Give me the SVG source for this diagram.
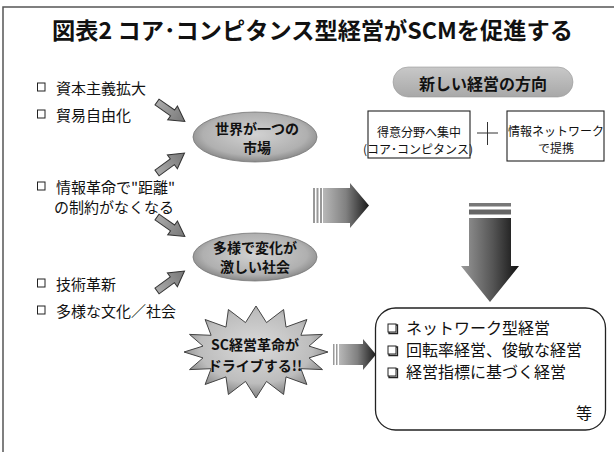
<svg xmlns="http://www.w3.org/2000/svg" width="614" height="452" viewBox="0 0 614 452">
<defs>
<style>
.t{font-family:"Noto Sans CJK JP","Liberation Sans",sans-serif;fill:#111;}
.lst{font-size:15px;dominant-baseline:central;}
.ell{font-size:14px;font-weight:bold;text-anchor:middle;dominant-baseline:central;}
.box{fill:#fff;stroke:#222;stroke-width:1.1;}
.bx{font-size:12px;text-anchor:middle;dominant-baseline:central;}
.res{font-size:16px;dominant-baseline:central;}
.sarrow{fill:url(#gSmall);stroke:#333;stroke-width:1;}
.cb{fill:#fff;stroke:#222;stroke-width:1;}
</style>
<radialGradient id="gEll" cx="0.5" cy="0.45" r="0.6">
<stop offset="0" stop-color="#d2d2d2"/><stop offset="0.7" stop-color="#b0b0b0"/><stop offset="1" stop-color="#7a7a7a"/>
</radialGradient>
<radialGradient id="gStar" cx="0.5" cy="0.45" r="0.6">
<stop offset="0" stop-color="#dadada"/><stop offset="0.65" stop-color="#bdbdbd"/><stop offset="1" stop-color="#6e6e6e"/>
</radialGradient>
<linearGradient id="gSmall" x1="0" y1="0" x2="1" y2="0">
<stop offset="0" stop-color="#aaa"/><stop offset="1" stop-color="#777"/>
</linearGradient>
<linearGradient id="gRight" x1="0" y1="0" x2="1" y2="0">
<stop offset="0" stop-color="#b8b8b8"/><stop offset="0.5" stop-color="#808080"/><stop offset="1" stop-color="#1a1a1a"/>
</linearGradient>
<linearGradient id="gDown" x1="0" y1="0" x2="1" y2="0">
<stop offset="0" stop-color="#9a9a9a"/><stop offset="0.55" stop-color="#555"/><stop offset="1" stop-color="#111"/>
</linearGradient>
<linearGradient id="gPill" x1="0" y1="0" x2="0" y2="1">
<stop offset="0" stop-color="#c8c8c8"/><stop offset="1" stop-color="#a8a8a8"/>
</linearGradient>
<path id="sa" d="M0,-3.5 L19,-3.5 L19,-8.5 L34,0 L19,8.5 L19,3.5 L0,3.5 Z"/>
</defs>

<rect x="0" y="0" width="614" height="452" fill="#fff"/>
<g id="frame" stroke="#555" stroke-width="1.5" fill="none">
<path d="M3,452 L3,7 L614,7"/>
</g>

<g id="title">
<text class="t" x="52" y="29" font-size="23" font-weight="bold" dominant-baseline="central" textLength="521" lengthAdjust="spacingAndGlyphs">図表2 コア･コンピタンス型経営がSCMを促進する</text>
</g>

<g id="list">
<rect class="cb" x="37.5" y="83" width="7.5" height="8"/>
<text class="t lst" x="56" y="87">資本主義拡大</text>
<rect class="cb" x="37.5" y="110" width="7.5" height="8"/>
<text class="t lst" x="56" y="114">貿易自由化</text>
<rect class="cb" x="37.5" y="182" width="7.5" height="8"/>
<text class="t lst" x="56" y="186">情報革命で"距離"</text>
<text class="t lst" x="54" y="206">の制約がなくなる</text>
<rect class="cb" x="37.5" y="279" width="7.5" height="8"/>
<text class="t lst" x="56" y="283">技術革新</text>
<rect class="cb" x="37.5" y="306" width="7.5" height="8"/>
<text class="t lst" x="56" y="310">多様な文化／社会</text>
</g>

<g id="connectors">
<use href="#sa" class="sarrow" transform="translate(157,102) rotate(35)"/>
<use href="#sa" class="sarrow" transform="translate(157,173) rotate(-36)"/>
<use href="#sa" class="sarrow" transform="translate(157,217) rotate(35)"/>
<use href="#sa" class="sarrow" transform="translate(157,291) rotate(-36)"/>
<g id="bigRight">
<rect x="313" y="188" width="2" height="35" fill="#999"/>
<rect x="316.5" y="188" width="2" height="35" fill="#999"/>
<rect x="320" y="188" width="2" height="35" fill="#999"/>
<path d="M323,188 L350,188 L350,183 L369,205.5 L350,228 L350,223 L323,223 Z" fill="url(#gRight)"/>
</g>
<g id="bigDown">
<rect x="469" y="203" width="42" height="3.5" fill="#777"/>
<rect x="469" y="209.5" width="42" height="5" fill="#666"/>
<path d="M469,218 L511,218 L511,266 L519,266 L490,302 L461,266 L469,266 Z" fill="url(#gDown)"/>
</g>
<g id="smallRight">
<rect x="333" y="344" width="1.5" height="21" fill="#999"/>
<rect x="336" y="344" width="1.5" height="21" fill="#999"/>
<path d="M339,344 L363,344 L363,339 L376,354.5 L363,370 L363,365 L339,365 Z" fill="url(#gRight)"/>
</g>
</g>

<g id="world">
<ellipse cx="255" cy="137" rx="62" ry="25" fill="url(#gEll)" stroke="#777" stroke-width="0.8"/>
<text class="t ell" x="257" y="128">世界が一つの</text>
<text class="t ell" x="257" y="147">市場</text>
</g>

<g id="society">
<ellipse cx="255" cy="257" rx="62" ry="24" fill="url(#gEll)" stroke="#777" stroke-width="0.8"/>
<text class="t ell" x="255" y="247">多様で変化が</text>
<text class="t ell" x="255" y="266">激しい社会</text>
</g>

<g id="star">
<polygon points="328,352 309,357.9 322.5,369.6 300.9,368.7 306.9,384.5 286,376.9 283.6,394.5 266.5,381.4 256,398 245.5,381.4 228.4,394.5 226,376.9 205.1,384.5 211.1,368.7 189.5,369.6 203,357.9 184,352 203,346.1 189.5,334.4 211.1,335.3 205.1,319.5 226,327.1 228.4,309.5 245.5,322.6 256,306 266.5,322.6 283.6,309.5 286,327.1 306.9,319.5 300.9,335.3 322.5,334.4 309,346.1" fill="url(#gStar)" stroke="#444" stroke-width="1"/>
<text class="t ell" x="255" y="344" font-size="14.5">SC経営革命が</text>
<text class="t ell" x="255" y="365" font-size="14.5">ドライブする!!</text>
</g>

<g id="direction">
<rect x="393" y="67" width="180" height="30" rx="15" fill="url(#gPill)" stroke="#999" stroke-width="0.6"/>
<text class="t" x="483" y="83" font-size="16" font-weight="bold" text-anchor="middle" dominant-baseline="central">新しい経営の方向</text>
</g>

<g id="core">
<rect class="box" x="368" y="111" width="102" height="47"/>
<text class="t bx" x="419" y="131">得意分野へ集中</text>
<text class="t bx" x="418" y="148">(コア･コンピタンス)</text>
</g>

<g id="plus" stroke="#333" stroke-width="1">
<line x1="477" y1="133" x2="498" y2="133"/>
<line x1="487.5" y1="122" x2="487.5" y2="145"/>
</g>

<g id="network">
<rect class="box" x="507" y="111" width="97" height="50"/>
<text class="t bx" x="556" y="130">情報ネットワーク</text>
<text class="t bx" x="556" y="147">で提携</text>
</g>

<g id="result">
<rect x="375.5" y="308" width="230" height="122" rx="20" fill="#fff" stroke="#222" stroke-width="1.3"/>
<rect x="388" y="324" width="8" height="8" class="cb"/>
<path d="M396,325 L397.5,325 L397.5,333.5 L389,333.5 L389,332" fill="none" stroke="#222" stroke-width="1.3"/>
<text class="t res" x="406" y="327">ネットワーク型経営</text>
<rect x="388" y="346" width="8" height="8" class="cb"/>
<path d="M396,347 L397.5,347 L397.5,355.5 L389,355.5 L389,354" fill="none" stroke="#222" stroke-width="1.3"/>
<text class="t res" x="406" y="349">回転率経営、俊敏な経営</text>
<rect x="388" y="368" width="8" height="8" class="cb"/>
<path d="M396,369 L397.5,369 L397.5,377.5 L389,377.5 L389,376" fill="none" stroke="#222" stroke-width="1.3"/>
<text class="t res" x="406" y="371">経営指標に基づく経営</text>
<text class="t res" x="584" y="412" text-anchor="middle">等</text>
</g>
</svg>
